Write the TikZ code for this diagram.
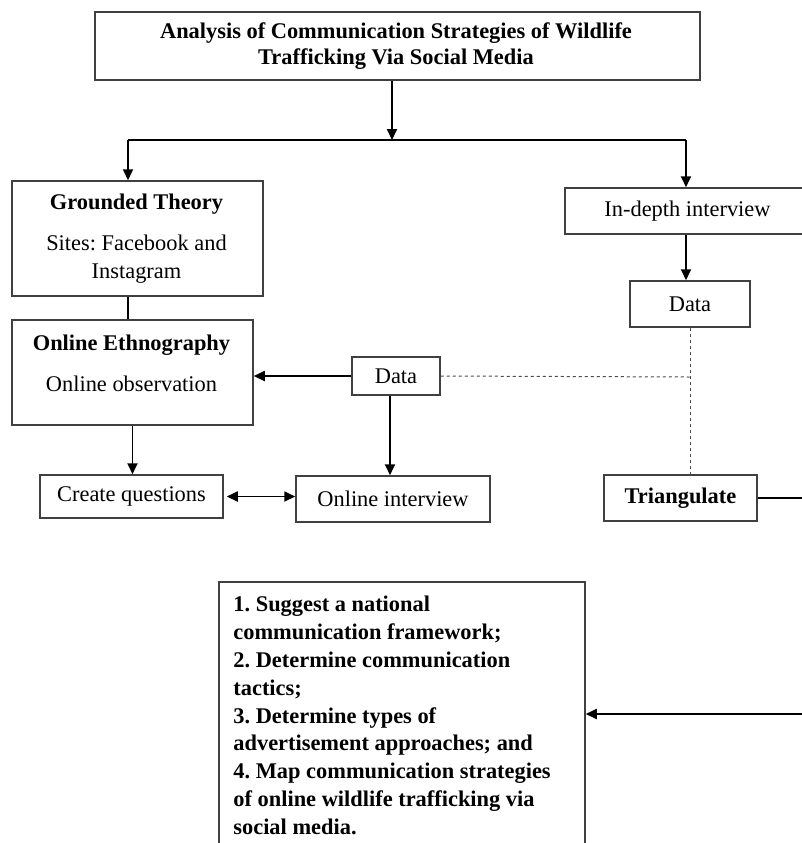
\documentclass[tikz,border=0pt]{standalone}
\usepackage{fontspec}
\setmainfont{Liberation Serif}
\usetikzlibrary{arrows.meta}
\frenchspacing
\begin{document}
\begin{tikzpicture}[x=0.5pt,y=-0.5pt,
  every node/.style={font=\fontsize{11.2pt}{13.9pt}\selectfont, inner sep=0pt},
  box/.style={draw=black!75, line width=0.75pt, rectangle},
  arr/.style={line width=0.9pt, -{Triangle[length=5.5pt,width=5pt]}},
  dbl/.style={line width=0.9pt, {Triangle[length=5.5pt,width=5pt]}-{Triangle[length=5.5pt,width=5pt]}},
  ln/.style={line width=0.9pt},
  dotln/.style={line width=0.5pt, black!70, dash pattern=on 1.5pt off 1.5pt}
]
\useasboundingbox (0,0) rectangle (802,843);
\clip (0,0) rectangle (802,843);

% boxes
\node[box, minimum width=302.5pt, minimum height=34pt] (title) at (397.5,46) {};
\node[anchor=base] (t1) at (396,38) {\textbf{Analysis of Communication Strategies of Wildlife}};
\node[anchor=base] (t2) at (396,64) {\textbf{Trafficking Via Social Media}};

\node[box, minimum width=125.5pt, minimum height=57.5pt] (gt) at (137.5,238.5) {};
\node[anchor=base] (gt1) at (136.5,209) {\textbf{Grounded Theory}};
\node[anchor=base] (gt2) at (136.5,250) {Sites: Facebook and};
\node[anchor=base] (gt3) at (136.5,278) {Instagram};

\node[box, minimum width=120.5pt, minimum height=52.5pt] (oe) at (132.5,372.5) {};
\node[anchor=base] (oe1) at (131.5,350) {\textbf{Online Ethnography}};
\node[anchor=base] (oe2) at (131.5,391) {Online observation};

\node[box, minimum width=44pt, minimum height=19pt] (data1) at (396,376) {Data};
\node[box, minimum width=91.5pt, minimum height=21.5pt] (cq) at (131.5,496.5) {Create questions};
\node[box, minimum width=97pt, minimum height=23pt] (oi) at (393,499) {Online interview};

\node[box, minimum width=122.5pt, minimum height=23pt] (idi) at (687.5,211) {In-depth interview};
\node[box, minimum width=60pt, minimum height=23pt] (data2) at (690,304) {Data};
\node[box, minimum width=76.5pt, minimum height=23pt] (tri) at (680.5,498) {\textbf{Triangulate}};

\node[box, minimum width=183pt, minimum height=138pt] (final) at (402,720) {};
\node[anchor=north west, align=left] (ft) at (233,596) {\textbf{1. Suggest a national}\\
\textbf{communication framework;}\\
\textbf{2. Determine communication}\\
\textbf{tactics;}\\
\textbf{3. Determine types of}\\
\textbf{advertisement approaches; and}\\
\textbf{4. Map communication strategies}\\
\textbf{of online wildlife trafficking via}\\
\textbf{social media.}};

% connectors
\coordinate (split) at (392,140);
\coordinate (lft) at (128,140);
\coordinate (rgt) at (686,140);
\coordinate (dj) at (690,377);
\coordinate (re) at (812,0);
\coordinate (fy) at (0,714);

\draw[arr] (title.south -| split) -- (split);
\draw[ln] (lft) -- (rgt);
\draw[arr] (lft) -- (lft |- gt.north);
\draw[arr] (rgt) -- (rgt |- idi.north);
\draw[ln] (gt.south -| lft) -- (oe.north -| lft);
\draw[arr] (data1.west) -- (oe.east |- data1.west);
\draw[dotln] (data1.east) -- (dj);
\draw[dotln] (data2.south -| dj) -- (tri.north -| dj);
\draw[arr] ([xshift=-3pt]data1.south) -- ([xshift=-3pt]data1.south |- oi.north);
\draw[arr] (oe.south) -- (oe.south |- cq.north);
\draw[dbl, shorten <=1.5pt] (cq.east) -- (oi.west |- cq.east);
\draw[arr] (idi.south -| rgt) -- (data2.north -| rgt);
\draw[arr] (tri.east) -- (tri.east -| re) |- (final.east |- fy);
\end{tikzpicture}
\end{document}
